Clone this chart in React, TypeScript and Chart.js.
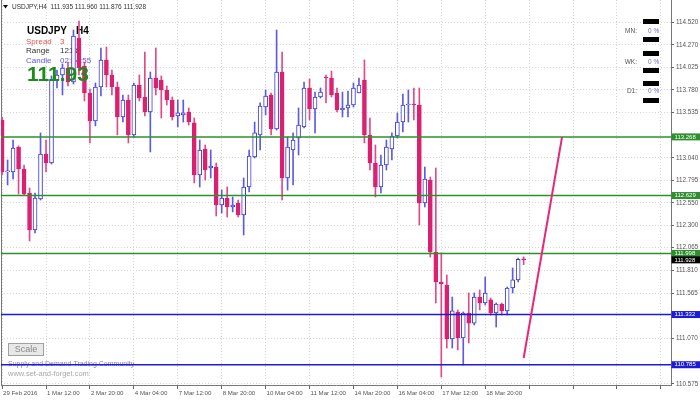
import React, { useEffect, useRef } from 'react';
import { Chart, registerables } from 'chart.js';

Chart.register(...registerables);

// ---- data (USDJPY H4) ----
const opens = [
  113.452, 112.886, 112.886, 113.158, 112.918, 112.657, 112.253, 112.591, 113.082, 112.984,
  113.888, 113.943, 114.019, 113.866, 114.346, 114.041, 113.746, 113.441, 113.812, 114.106,
  113.943, 113.812, 113.485, 113.670, 113.289, 113.834, 113.703, 113.539, 113.910, 113.888,
  113.779, 113.670, 113.496, 113.507, 113.539, 113.420, 112.853, 113.136, 112.929, 112.940,
  112.526, 112.602, 112.504, 112.548, 112.417, 112.722, 113.049, 113.289, 113.594, 113.725,
  113.354, 113.975, 112.820, 113.125, 113.256, 113.376, 113.801, 113.572, 113.703, 113.921,
  113.910, 113.746, 113.561, 113.583, 113.616, 113.746, 113.888, 113.289, 112.984, 112.722,
  112.962, 113.136, 113.278, 113.430, 113.616, 113.627, 113.616, 112.548, 112.798, 112.014,
  111.687, 111.654, 111.066, 111.360, 111.076, 111.349, 111.239, 111.523, 111.458, 111.491,
  111.349, 111.447, 111.371, 111.621, 111.709, 111.935,
];
const highs = [
  113.485, 113.016, 113.234, 113.169, 112.962, 112.711, 112.657, 113.311, 113.234, 113.932,
  113.997, 114.063, 114.084, 114.433, 114.531, 114.084, 113.790, 113.855, 114.237, 114.248,
  113.997, 113.866, 113.725, 113.725, 113.855, 113.943, 114.193, 113.975, 114.237, 113.932,
  113.823, 113.703, 113.670, 113.670, 113.583, 113.474, 113.234, 113.180, 113.125, 112.984,
  112.689, 112.722, 112.613, 112.580, 112.820, 113.125, 113.430, 113.638, 113.779, 113.746,
  114.433, 114.193, 113.267, 113.311, 113.583, 113.866, 113.899, 113.757, 113.801, 113.943,
  113.986, 113.801, 113.757, 113.768, 113.855, 113.910, 114.106, 113.474, 113.180, 113.071,
  113.234, 113.311, 113.529, 113.736, 113.779, 113.801, 113.801, 112.940, 112.831, 112.929,
  112.003, 111.763, 111.523, 111.382, 111.360, 111.567, 111.567, 111.600, 111.741, 111.512,
  111.458, 111.458, 111.632, 111.839, 111.948, 111.960,
];
const lows = [
  112.853, 112.744, 112.809, 112.646, 112.635, 112.134, 112.221, 112.580, 112.886, 112.973,
  113.801, 113.725, 113.823, 113.845, 113.943, 113.659, 113.202, 113.387, 113.714, 113.812,
  113.725, 113.289, 113.430, 113.202, 113.267, 113.659, 113.496, 113.104, 113.725, 113.474,
  113.616, 113.452, 113.376, 113.430, 113.398, 112.766, 112.722, 112.798, 112.820, 112.406,
  112.439, 112.395, 112.450, 112.395, 112.199, 112.668, 113.038, 113.125, 113.507, 113.289,
  113.343, 112.580, 112.689, 112.744, 113.071, 113.365, 113.452, 113.311, 113.692, 113.638,
  113.703, 113.539, 113.485, 113.485, 113.594, 113.746, 113.202, 112.907, 112.613, 112.657,
  112.907, 113.016, 113.256, 113.321, 113.430, 113.452, 112.308, 112.504, 111.959, 111.458,
  110.651, 110.967, 110.967, 110.946, 110.782, 111.022, 111.218, 111.382, 111.436, 111.327,
  111.196, 111.327, 111.327, 111.567, 111.687, 111.876,
];
const closes = [
  112.886, 112.896, 113.147, 112.918, 112.646, 112.253, 112.602, 113.082, 112.984, 113.888,
  113.943, 114.019, 113.866, 114.368, 114.019, 113.746, 113.441, 113.812, 114.106, 113.943,
  113.812, 113.485, 113.670, 113.289, 113.834, 113.692, 113.539, 113.910, 113.801, 113.779,
  113.670, 113.485, 113.529, 113.529, 113.430, 112.853, 113.125, 112.907, 112.951, 112.526,
  112.602, 112.504, 112.526, 112.417, 112.722, 113.060, 113.311, 113.605, 113.714, 113.354,
  113.975, 112.820, 113.158, 113.234, 113.398, 113.801, 113.572, 113.703, 113.757, 113.910,
  113.725, 113.561, 113.583, 113.616, 113.801, 113.834, 113.289, 112.984, 112.722, 112.962,
  113.158, 113.278, 113.430, 113.616, 113.627, 113.616, 112.548, 112.809, 112.014, 111.687,
  111.665, 111.066, 111.371, 111.076, 111.349, 111.239, 111.523, 111.458, 111.567, 111.349,
  111.447, 111.371, 111.621, 111.709, 111.935, 111.928,
];

const timeTickIdx = [0, 8, 16, 24, 32, 40, 48, 56, 64, 72, 80, 88, 96, 104, 112, 120];
const timeTickLabels = [
  '29 Feb 2016', '1 Mar 12:00', '2 Mar 20:00', '4 Mar 04:00', '7 Mar 12:00', '8 Mar 20:00',
  '10 Mar 04:00', '11 Mar 12:00', '14 Mar 20:00', '16 Mar 04:00', '17 Mar 12:00', '18 Mar 20:00',
  '', '', '', '',
];
const priceTicks = [
  114.52, 114.27, 114.025, 113.78, 113.535, 113.04, 112.795, 112.55, 112.3, 112.065,
  111.81, 111.565, 111.07, 110.575,
];
const greenLevels = [113.268, 112.629, 111.998];
const blueLevels = [111.332, 110.785];
const bidPrice = 111.928;
const trendX = [95, 102];
const trendY = [110.858, 113.268];

const X_MIN = -0.2;
const X_MAX = 121.84;
const Y_MIN = 110.564;
const Y_MAX = 114.76;

// ---- styles ----
const BULL = '#3a3ad6';
const BEAR = '#dc2070';
const BULL_WICK = '#5c5ce0';
const BEAR_WICK = '#e04a86';
const GREEN = '#2f8f2f';
const BLUE = '#1c1cd8';
const TREND = '#e6287c';
const FONT = '"Liberation Sans", Arial, sans-serif';

const idx = opens.map((_, i) => i);
const isBull = idx.map((i) => closes[i] >= opens[i]);

const textPlugin = {
  id: 'mtText',
  beforeDatasetsDraw(chart: any) {
    const ctx = chart.ctx as CanvasRenderingContext2D;
    const n = opens.length - 1;
    ctx.save();
    // left frame
    ctx.strokeStyle = '#777';
    ctx.lineWidth = 1;
    ctx.beginPath();
    ctx.moveTo(1.5, 0);
    ctx.lineTo(1.5, chart.chartArea.bottom);
    ctx.stroke();

    ctx.textBaseline = 'middle';
    ctx.textAlign = 'left';
    // header
    ctx.fillStyle = '#111';
    ctx.beginPath();
    ctx.moveTo(3, 5);
    ctx.lineTo(8, 5);
    ctx.lineTo(5.5, 8.5);
    ctx.closePath();
    ctx.fill();
    ctx.fillStyle = '#333';
    ctx.font = `6.5px ${FONT}`;
    ctx.fillText(
      `USDJPY,H4  ${opens[n].toFixed(3)} ${highs[n].toFixed(3)} ${lows[n].toFixed(3)} ${closes[n].toFixed(3)}`,
      12, 7
    );
    // info block
    ctx.fillStyle = '#000';
    ctx.font = `bold 10px ${FONT}`;
    ctx.fillText('USDJPY', 27, 31);
    ctx.fillText('H4', 76, 31);
    ctx.font = `8px ${FONT}`;
    ctx.fillStyle = '#e05a5a';
    ctx.fillText('Spread', 26, 41.5);
    ctx.fillText('3', 60, 41.5);
    ctx.fillStyle = '#333';
    ctx.fillText('Range', 26, 51);
    ctx.fillText('121.8', 60, 51);
    ctx.fillStyle = '#5858e0';
    ctx.fillText('Candle', 26, 60.5);
    ctx.fillText('02:34:55', 60, 60.5);

    // watermark
    ctx.font = `7px ${FONT}`;
    ctx.fillStyle = '#8080c8';
    ctx.fillText('Supply and Demand Trading Community', 8, 364.5);
    ctx.font = `7.5px ${FONT}`;
    ctx.fillStyle = '#a8a8a8';
    ctx.fillText('www.set-and-forget.com', 8, 374);

    // Scale button
    ctx.fillStyle = '#e8e8e8';
    ctx.fillRect(8.5, 343.5, 35, 12);
    ctx.strokeStyle = '#a0a0a0';
    ctx.strokeRect(8.5, 343.5, 35, 12);
    ctx.fillStyle = '#888';
    ctx.font = `9px ${FONT}`;
    ctx.textAlign = 'center';
    ctx.fillText('Scale', 26, 349.5);

    // MN / WK / D1 widget
    ctx.fillStyle = '#000';
    [19, 37, 51, 68, 81, 98].forEach((y) => ctx.fillRect(643, y, 16, 5));
    ctx.font = `6.5px ${FONT}`;
    [['MN:', 31], ['WK:', 62], ['D1:', 91]].forEach(([t, y]) => {
      ctx.textAlign = 'right';
      ctx.fillStyle = '#555';
      ctx.fillText(t as string, 637, y as number);
      ctx.textAlign = 'left';
      ctx.fillStyle = '#6b6bd0';
      ctx.fillText('0 %', 648, y as number);
    });
    ctx.restore();
  },
  afterDatasetsDraw(chart: any) {
    const ctx = chart.ctx as CanvasRenderingContext2D;
    const n = closes.length - 1;
    ctx.save();
    ctx.textBaseline = 'middle';
    ctx.textAlign = 'left';
    ctx.fillStyle = '#1e8b1e';
    ctx.font = `bold 21px ${FONT}`;
    ctx.fillText(closes[n].toFixed(2), 27, 75);
    ctx.restore();
  },
  afterDraw(chart: any) {
    const ctx = chart.ctx as CanvasRenderingContext2D;
    const ys = chart.scales.y;
    const x0 = chart.chartArea.right + 0.5;
    ctx.save();
    ctx.font = `6px ${FONT}`;
    ctx.textBaseline = 'middle';
    ctx.textAlign = 'left';
    const box = (v: number, bg: string) => {
      const y = ys.getPixelForValue(v);
      ctx.fillStyle = bg;
      ctx.fillRect(x0, y - 3.5, 700 - x0, 7);
      ctx.fillStyle = '#fff';
      ctx.fillText(v.toFixed(3), x0 + 3, y);
    };
    greenLevels.forEach((v) => box(v, GREEN));
    blueLevels.forEach((v) => box(v, BLUE));
    box(bidPrice, '#000');
    ctx.restore();
  },
};

const levelDataset = (v: number, color: string) => ({
  type: 'line' as const,
  data: [{ x: X_MIN, y: v }, { x: X_MAX, y: v }],
  borderColor: color,
  borderWidth: 1.5,
  pointRadius: 0,
  order: 1,
});

export default function App() {
  const ref = useRef<HTMLCanvasElement>(null);
  useEffect(() => {
    const chart = new Chart(ref.current as HTMLCanvasElement, {
      type: 'bar',
      data: {
        datasets: [
          {
            type: 'line',
            data: trendX.map((x, k) => ({ x, y: trendY[k] })),
            borderColor: TREND,
            borderWidth: 2,
            pointRadius: 0,
            order: 0,
          } as any,
          ...greenLevels.map((v) => levelDataset(v, GREEN)),
          ...blueLevels.map((v) => levelDataset(v, BLUE)),
          {
            type: 'bar',
            data: idx.map((i) => ({ x: i, y: [opens[i], closes[i]] })),
            backgroundColor: idx.map((i) => (isBull[i] ? '#ffffff' : BEAR)),
            borderColor: idx.map((i) => (isBull[i] ? BULL : BEAR)),
            borderWidth: 1,
            borderSkipped: false,
            barThickness: 4,
            minBarLength: 1,
            grouped: false,
            order: 2,
          } as any,
          {
            type: 'bar',
            data: idx.map((i) => ({ x: i, y: [lows[i], highs[i]] })),
            backgroundColor: idx.map((i) => (isBull[i] ? BULL_WICK : BEAR_WICK)),
            borderWidth: 0,
            barThickness: 1,
            grouped: false,
            order: 3,
          } as any,
        ],
      },
      options: {
        responsive: false,
        animation: false,
        devicePixelRatio: 1,
        layout: { padding: { left: 1, top: 0, right: 0, bottom: 0 } },
        plugins: { legend: { display: false }, tooltip: { enabled: false } },
        scales: {
          x: {
            type: 'linear',
            min: X_MIN,
            max: X_MAX,
            offset: false,
            position: 'bottom',
            afterBuildTicks: (s: any) => {
              s.ticks = timeTickIdx.map((value) => ({ value }));
            },
            afterFit: (s: any) => {
              s.height = 16;
              s.paddingLeft = 0;
              s.paddingRight = 0;
            },
            ticks: {
              autoSkip: false,
              maxRotation: 0,
              minRotation: 0,
              align: 'start',
              labelOffset: 1,
              padding: 1,
              color: '#555',
              font: { family: '"Liberation Sans", Arial, sans-serif', size: 6.1 },
              callback: (v: any) => {
                const k = timeTickIdx.indexOf(Number(v));
                return k >= 0 ? timeTickLabels[k] : '';
              },
            },
            grid: {
              offset: false,
              color: '#d6d6d6',
              tickColor: '#666',
              tickLength: 4,
              tickBorderDash: [],
            },
            border: { color: '#777', dash: [1, 2] },
          } as any,
          y: {
            type: 'linear',
            min: Y_MIN,
            max: Y_MAX,
            position: 'right',
            afterBuildTicks: (s: any) => {
              s.ticks = priceTicks.map((value) => ({ value }));
            },
            afterFit: (s: any) => {
              s.width = 29;
              s.paddingTop = 0;
              s.paddingBottom = 0;
            },
            ticks: {
              autoSkip: false,
              padding: 2,
              color: '#555',
              font: { family: '"Liberation Sans", Arial, sans-serif', size: 6.3 },
              callback: (v: any) => Number(v).toFixed(3),
            },
            grid: {
              color: '#d6d6d6',
              tickColor: '#666',
              tickLength: 3,
              tickBorderDash: [],
            },
            border: { color: '#777', dash: [1, 2] },
          } as any,
        },
      },
      plugins: [textPlugin],
    } as any);
    return () => chart.destroy();
  }, []);

  return (
    <div style={{ position: 'fixed', left: 0, top: 0, width: 700, height: 401, background: '#fff' }}>
      <canvas ref={ref} width={700} height={401} style={{ display: 'block' }} />
    </div>
  );
}
